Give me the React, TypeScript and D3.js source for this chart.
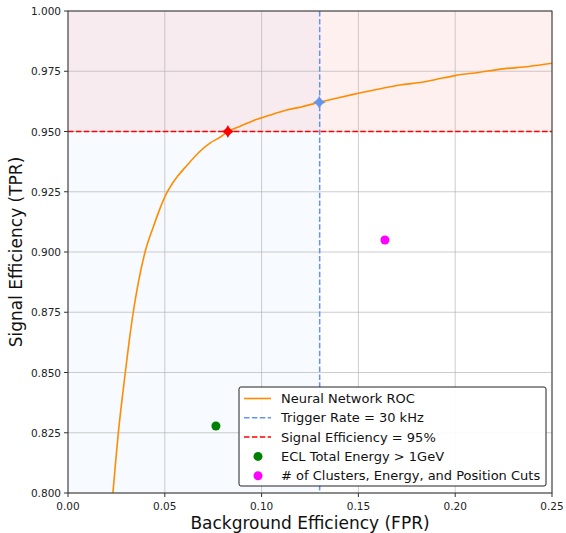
import React from "react";
import * as d3 from "d3";

// ROC curve
const rocFpr = [0.0232, 0.0245, 0.026, 0.0278, 0.0296, 0.0316, 0.0337, 0.0365, 0.0398, 0.0441, 0.0475, 0.051, 0.054, 0.057, 0.0613, 0.0682, 0.0735, 0.0785, 0.0826, 0.089, 0.0957, 0.104, 0.113, 0.121, 0.1298, 0.138, 0.1474, 0.16, 0.1715, 0.1818, 0.19, 0.1999, 0.212, 0.225, 0.238, 0.25];
const rocTpr = [0.8, 0.812, 0.825, 0.838, 0.85, 0.863, 0.875, 0.888, 0.9, 0.9105, 0.918, 0.9245, 0.9285, 0.9318, 0.9358, 0.9418, 0.9453, 0.9476, 0.95, 0.9522, 0.9545, 0.9567, 0.9589, 0.9603, 0.9621, 0.9637, 0.9654, 0.9675, 0.9693, 0.9703, 0.9716, 0.9732, 0.9745, 0.976, 0.977, 0.9783];

const triggerFpr = 0.13;
const targetTpr = 0.95;
const triggerPoint = [0.1298, 0.9621];
const targetPoint = [0.0826, 0.95];

const cutNames = ["ECL Total Energy > 1GeV", "# of Clusters, Energy, and Position Cuts"];
const cutFpr = [0.0764, 0.1637];
const cutTpr = [0.8278, 0.905];
const cutColors = ["green", "magenta"];

const xTicks = [0, 0.05, 0.1, 0.15, 0.2, 0.25];
const yTicks = [0.8, 0.825, 0.85, 0.875, 0.9, 0.925, 0.95, 0.975, 1.0];

const W = 566, H = 533;
const L = 68, R = 552, T = 11, B = 493;
const FONT = "DejaVu Sans, sans-serif";

const star = (cx: number, cy: number, r: number) => {
  const k = r * 0.28;
  return `M${cx},${cy - r} Q${cx + k},${cy - k} ${cx + r},${cy} Q${cx + k},${cy + k} ${cx},${cy + r} Q${cx - k},${cy + k} ${cx - r},${cy} Q${cx - k},${cy - k} ${cx},${cy - r}Z`;
};

export default function App() {
  const x = d3.scaleLinear().domain([0, 0.25]).range([L, R]);
  const y = d3.scaleLinear().domain([0.8, 1.0]).range([B, T]);
  const line = d3.line<number>()
    .x((d, i) => x(rocFpr[i]))
    .y((d, i) => y(rocTpr[i]))
    .curve(d3.curveMonotoneX);

  const legendItems = ["Neural Network ROC", "Trigger Rate = 30 kHz", "Signal Efficiency = 95%", ...cutNames];
  const lx = 239, ly = 387, lw = 307, lh = 99, rowH = 19.3;
  const dash = "5.5,2.4";

  return (
    <svg width={W} height={H} style={{ position: "absolute", left: 0, top: 0, background: "white" }} fontFamily={FONT}>
      <defs>
        <clipPath id="plot"><rect x={L} y={T} width={R - L} height={B - T} /></clipPath>
      </defs>
      {/* shaded regions */}
      <rect x={x(0)} y={T} width={x(triggerFpr) - x(0)} height={B - T} fill="cornflowerblue" fillOpacity={0.05} />
      <rect x={L} y={y(1)} width={R - L} height={y(targetTpr) - y(1)} fill="red" fillOpacity={0.06} />
      {/* grid */}
      {xTicks.map(t => <line key={"gx" + t} x1={x(t)} x2={x(t)} y1={T} y2={B} stroke="#b0b0b0" strokeWidth={0.9} opacity={0.7} />)}
      {yTicks.map(t => <line key={"gy" + t} x1={L} x2={R} y1={y(t)} y2={y(t)} stroke="#b0b0b0" strokeWidth={0.9} opacity={0.7} />)}
      <g clipPath="url(#plot)">
        <path d={line(rocFpr) || ""} fill="none" stroke="darkorange" strokeWidth={1.6} />
        <line x1={x(triggerFpr)} x2={x(triggerFpr)} y1={T} y2={B} stroke="cornflowerblue" strokeWidth={1.5} strokeDasharray={dash} />
        <line x1={L} x2={R} y1={y(targetTpr)} y2={y(targetTpr)} stroke="red" strokeWidth={1.5} strokeDasharray={dash} />
        <path d={star(x(targetPoint[0]), y(targetPoint[1]), 6.5)} fill="red" />
        <path d={star(x(triggerPoint[0]), y(triggerPoint[1]), 6.5)} fill="cornflowerblue" />
        {cutFpr.map((f, i) => <circle key={i} cx={x(f)} cy={y(cutTpr[i])} r={4.5} fill={cutColors[i]} />)}
      </g>
      {/* spines */}
      <rect x={L} y={T} width={R - L} height={B - T} fill="none" stroke="#333" strokeWidth={1} />
      {/* ticks */}
      {xTicks.map(t => (
        <g key={"xt" + t}>
          <line x1={x(t)} x2={x(t)} y1={B} y2={B + 4} stroke="#333" />
          <text x={x(t)} y={B + 17} fontSize={10.5} textAnchor="middle" fill="#222">{t.toFixed(2)}</text>
        </g>
      ))}
      {yTicks.map(t => (
        <g key={"yt" + t}>
          <line x1={L - 4} x2={L} y1={y(t)} y2={y(t)} stroke="#333" />
          <text x={L - 7} y={y(t) + 4} fontSize={10.5} textAnchor="end" fill="#222">{t.toFixed(3)}</text>
        </g>
      ))}
      <text x={(L + R) / 2} y={529} fontSize={17} textAnchor="middle" fill="#111">Background Efficiency (FPR)</text>
      <text transform={`translate(22,${(T + B) / 2}) rotate(-90)`} fontSize={17} textAnchor="middle" fill="#111">Signal Efficiency (TPR)</text>
      {/* legend */}
      <rect x={lx} y={ly} width={lw} height={lh} rx={2} fill="white" fillOpacity={0.9} stroke="#222" strokeWidth={1} />
      {legendItems.map((name, i) => {
        const cy = ly + 11.5 + i * rowH;
        return (
          <g key={name}>
            {i === 0 && <line x1={lx + 5} x2={lx + 32} y1={cy} y2={cy} stroke="darkorange" strokeWidth={1.6} />}
            {i === 1 && <line x1={lx + 5} x2={lx + 32} y1={cy} y2={cy} stroke="cornflowerblue" strokeWidth={1.5} strokeDasharray={dash} />}
            {i === 2 && <line x1={lx + 5} x2={lx + 32} y1={cy} y2={cy} stroke="red" strokeWidth={1.5} strokeDasharray={dash} />}
            {i >= 3 && <circle cx={lx + 19} cy={cy} r={4.5} fill={cutColors[i - 3]} />}
            <text x={lx + 42} y={cy + 4.5} fontSize={13} fill="#111">{name}</text>
          </g>
        );
      })}
    </svg>
  );
}
